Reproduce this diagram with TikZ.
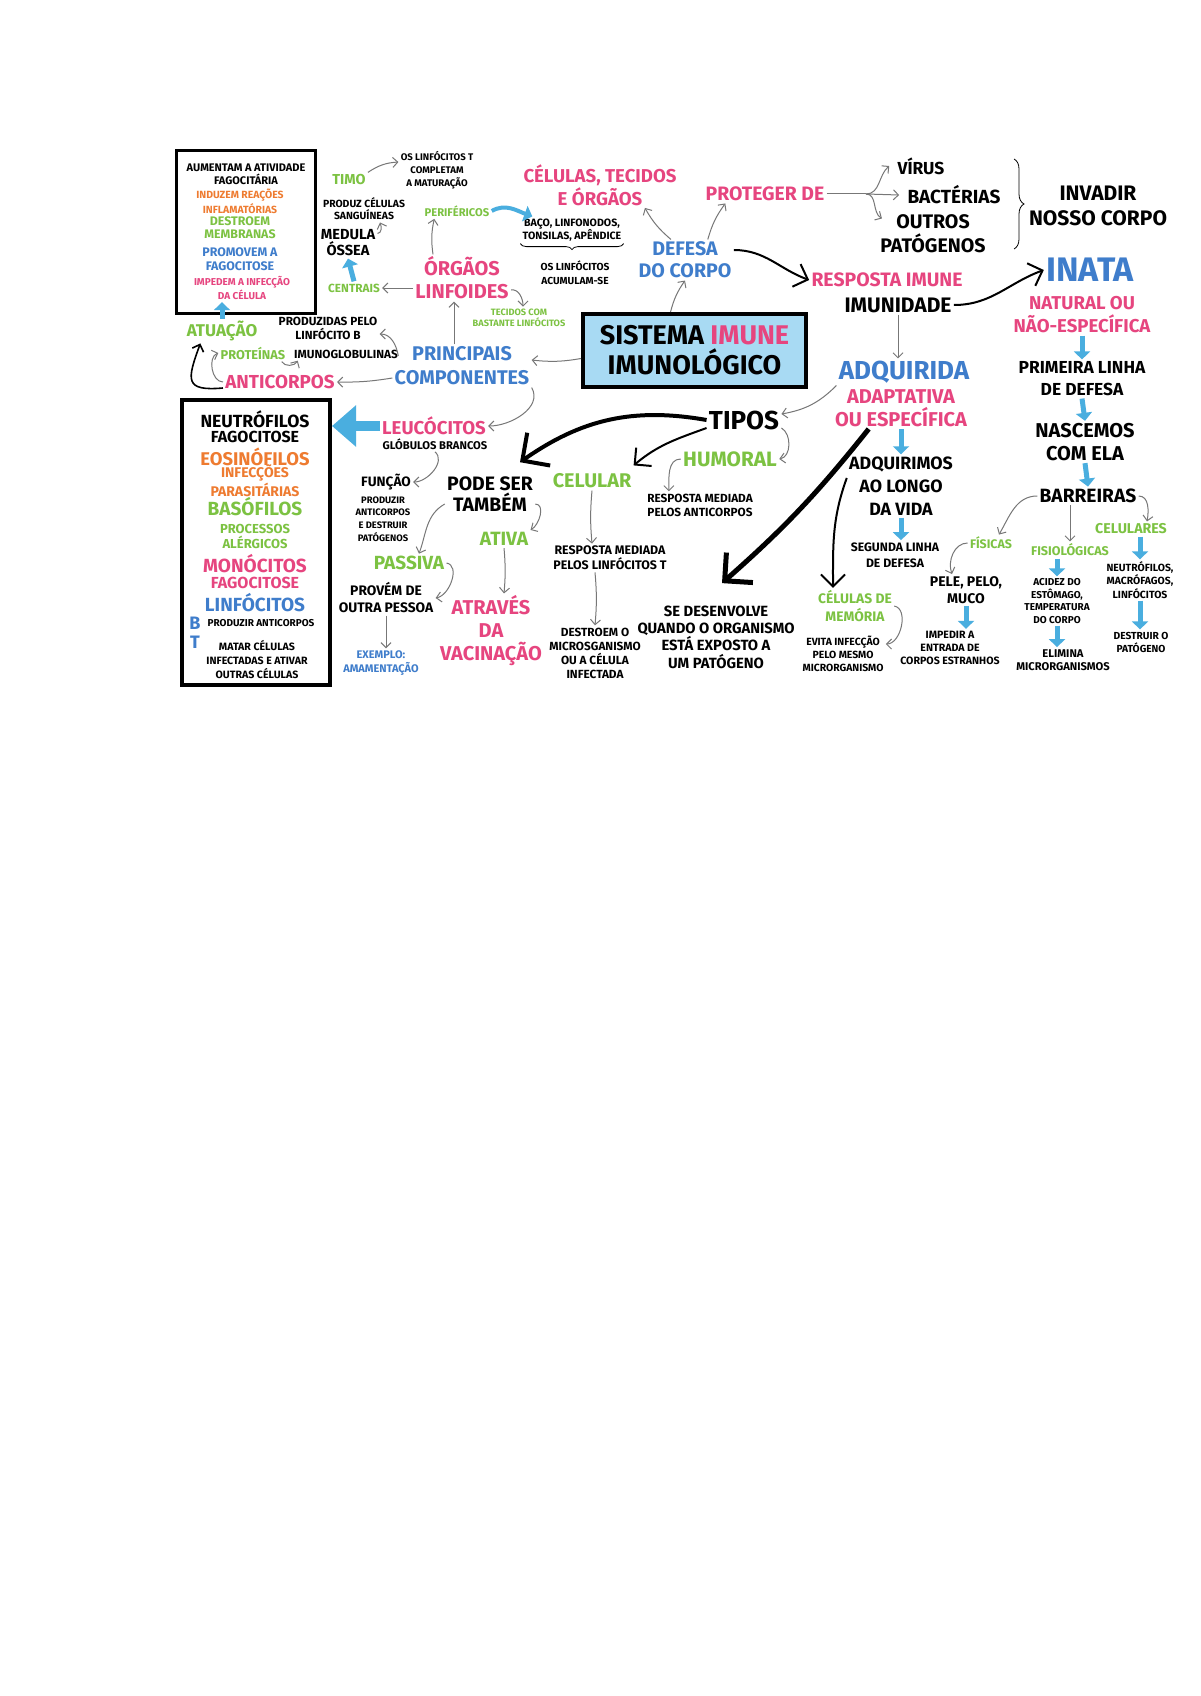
\documentclass[tikz,border=0pt]{standalone}
\usepackage{fontspec}
\setmainfont{Fira Sans}
\usetikzlibrary{arrows.meta,decorations.pathreplacing}
\definecolor{rosa}{HTML}{E6457F}
\definecolor{azul}{HTML}{3F7DCB}
\definecolor{verde}{HTML}{7CC242}
\definecolor{laranja}{HTML}{EE7B30}
\definecolor{seta}{HTML}{4AAEDF}
\definecolor{caixa}{HTML}{A8DAF3}
\definecolor{cinza}{HTML}{777777}

\begin{document}
\begin{tikzpicture}[x=0.5pt, y=-0.5pt,
    every node/.style={align=center, inner sep=1pt},
    fs/.style 2 args={font=\fontsize{#1}{#2}\selectfont\bfseries},
    grarr/.style={draw=cinza, line width=0.5pt, -{Straight Barb[length=2.5pt,width=5pt]}},
    bkarr/.style={line width=1pt, -{Straight Barb[length=6pt,width=12pt]}},
    bigarr/.style={line width=2pt, -{Straight Barb[length=10pt,width=20pt]}},
    blarr/.style={draw=seta, line width=2.5pt, -{Triangle[length=4pt,width=8pt]}}]

    \path[use as bounding box, fill=white] (0,0) rectangle (1200,1696);

    \node[draw, line width=1.5pt, minimum width=69.5pt, minimum height=81pt] (actbox) at (245.5,232) {};
    \node[fs={5.5}{6.6}] (act1) at (246,174) {AUMENTAM A ATIVIDADE\\FAGOCITÁRIA};
    \node[fs={5.2}{6.2}, text=laranja] (act2) at (240,201) {INDUZEM REAÇÕES\\INFLAMATÓRIAS};
    \node[fs={6.2}{6.6}, text=verde] (act3) at (240,228) {DESTROEM\\MEMBRANAS};
    \node[fs={6.2}{7}, text=azul] (act4) at (240,259) {PROMOVEM A\\FAGOCITOSE};
    \node[fs={5}{6}, text=rosa] (act5) at (242,288) {IMPEDEM A INFECÇÃO\\DA CÉLULA};
    \node[fs={8.5}{10}, text=verde] (atuacao) at (222,331) {ATUAÇÃO};
    \draw[blarr] (atuacao.north) -- (atuacao.north |- act5.south);

    \node[fs={7.2}{8}, text=verde] (timo) at (349,180) {TIMO};
    \node[fs={4.8}{6.4}] (timot) at (437,170) {OS LINFÓCITOS T\\COMPLETAM\\A MATURAÇÃO};
    \draw[grarr] (timo.north east) to[bend left=15] ([yshift=4pt]timot.west);
    \node[fs={5.2}{6}] (produz) at (364,209) {PRODUZ CÉLULAS\\SANGUÍNEAS};
    \node[fs={7.3}{8}] (medula) at (348,243) {MEDULA\\ÓSSEA};
    \draw[grarr] ([yshift=-3pt]medula.north east) to[out=0,in=-70] ([xshift=8pt]produz.south);
    \node[fs={5.9}{7}, text=verde] (centrais) at (354,288) {CENTRAIS};
    \draw[blarr] (centrais.north) -- (medula.south);

    \node[fs={5.6}{7}, text=verde] (perif) at (457,211) {PERIFÉRICOS};
    \node[fs={5.3}{6.5}] (baco) at (572,230) {BAÇO, LINFONODOS,\\TONSILAS, APÊNDICE};
    \draw[decorate, decoration={brace, mirror, amplitude=3pt}] (baco.south west) -- (baco.south east);
    \node[fs={5.1}{7}] (acum) at (575,273) {OS LINFÓCITOS\\ACUMULAM-SE};
    \draw[blarr, line width=2pt] (perif.east) to[out=30,in=160] ([xshift=6pt]baco.north west);
    \node[fs={10}{11.5}, text=rosa] (orgaos) at (462,278) {ÓRGÃOS\\LINFOIDES};
    \draw[grarr] (orgaos.west |- centrais.east) -- (centrais.east);
    \draw[grarr] ([xshift=10pt]orgaos.north west) to[bend left=10] ([xshift=6pt]perif.south west);
    \node[fs={4.6}{5.6}, text=verde] (tecidos) at (519,318) {TECIDOS COM\\BASTANTE LINFÓCITOS};
    \draw[grarr] ([yshift=-6pt]orgaos.east) to[out=10,in=90] ([xshift=2pt]tecidos.north);

    \node[fs={9.3}{11.5}, text=rosa] (celulas) at (600,185) {CÉLULAS, TECIDOS\\E ÓRGÃOS};
    \node[fs={9.8}{11}, text=azul] (defesa) at (685,260) {DEFESA\\DO CORPO};
    \draw[grarr] ([xshift=-7pt]defesa.north) to[bend left=10] ([xshift=-17pt]celulas.south east);
    \node[fs={9.7}{11}, text=rosa] (protege) at (765,194) {PROTEGER DE};
    \draw[grarr] ([xshift=-13pt]defesa.north east) to[bend left=10] ([xshift=11pt]protege.south west);

    \coordinate (split) at (866,194);
    \node[fs={8.7}{10}] (virus) at (921,166) {VÍRUS};
    \node[fs={9.5}{11}] (bact) at (954,195) {BACTÉRIAS};
    \node[fs={9.8}{12}] (outros) at (933,234) {OUTROS\\PATÓGENOS};
    \draw[draw=cinza, line width=0.5pt] (protege.east) -- (split);
    \draw[grarr] (split) to[out=0,in=220] ([xshift=-3pt]virus.west);
    \draw[grarr] (split) -- ([xshift=-3pt]bact.west);
    \draw[grarr] (split) to[out=0,in=150] ([xshift=2pt,yshift=-3pt]outros.north west);
    \draw[decorate, decoration={brace, amplitude=5pt}] (1014,159) -- (1014,249);
    \node[fs={10.5}{12.5}] (invadir) at (1098,206) {INVADIR\\NOSSO CORPO};

    \node[fs={9.7}{11}, text=rosa] (resposta) at (887,280) {RESPOSTA IMUNE};
    \node[fs={10.5}{12}] (imunid) at (898,305) {IMUNIDADE};
    \draw[bkarr] ([yshift=5pt]defesa.east) to[out=0,in=160] (resposta.west);
    \node[fs={17}{19}, text=azul] (inata) at (1090,270) {INATA};
    \draw[bkarr] (imunid.east) to[out=0,in=200] (inata.west);
    \node[fs={9.3}{11.5}, text=rosa] (natural) at (1082,315) {NATURAL OU\\NÃO-ESPECÍFICA};
    \node[fs={8.7}{11}] (primeira) at (1082,379) {PRIMEIRA LINHA\\DE DEFESA};
    \node[fs={10}{11.5}] (nascemos) at (1085,442) {NASCEMOS\\COM ELA};
    \node[fs={9.6}{11}] (barreiras) at (1088,496) {BARREIRAS};
    \draw[blarr] (natural.south) -- (primeira.north);
    \draw[blarr] (primeira.south) -- (nascemos.north);
    \draw[blarr] (nascemos.south) -- (barreiras.north);

    \node[fs={6.2}{7}, text=verde] (fisicas) at (991,543) {FÍSICAS};
    \node[fs={6.3}{7}, text=verde] (fisiol) at (1070,550) {FISIOLÓGICAS};
    \node[fs={7.1}{8}, text=verde] (celulares) at (1131,529) {CELULARES};
    \draw[grarr] (barreiras.west) to[out=180,in=60] ([xshift=4pt]fisicas.north);
    \draw[grarr] (barreiras.south -| fisiol.north) -- (fisiol.north);
    \draw[grarr] (barreiras.east) to[out=0,in=80] ([xshift=8pt]celulares.north);
    \node[fs={7}{8.5}] (pele) at (966,590) {PELE, PELO,\\MUCO};
    \draw[grarr] (fisicas.west) to[out=180,in=110] ([xshift=-7pt]pele.north);
    \node[fs={5.3}{6.5}] (impedir) at (950,648) {IMPEDIR A\\ENTRADA DE\\CORPOS ESTRANHOS};
    \draw[blarr] (pele.south) -- (pele.south |- impedir.north);
    \node[fs={5}{6.2}] (acidez) at (1057,601) {ACIDEZ DO\\ESTÔMAGO,\\TEMPERATURA\\DO CORPO};
    \draw[blarr] (fisiol.south -| acidez.north) -- (acidez.north);
    \node[fs={5.6}{6.5}] (elimina) at (1063,660) {ELIMINA\\MICRORGANISMOS};
    \draw[blarr] (acidez.south) -- (acidez.south |- elimina.north);
    \node[fs={5.2}{6.6}] (neutr) at (1140,580) {NEUTRÓFILOS,\\MACRÓFAGOS,\\LINFÓCITOS};
    \draw[blarr] (celulares.south -| neutr.north) -- (neutr.north);
    \node[fs={5.1}{6.5}] (destruir) at (1141,642) {DESTRUIR O\\PATÓGENO};
    \draw[blarr] (neutr.south) -- (neutr.south |- destruir.north);

    \node[draw, line width=2pt, fill=caixa, minimum width=111.5pt, minimum height=36.5pt, fs={13.5}{15}] (sysbox) at (694.5,350.5) {SISTEMA \textcolor{rosa}{IMUNE}\\IMUNOLÓGICO};
    \draw[grarr] ([xshift=-12pt]sysbox.north) to[bend left=10] (defesa.south);

    \node[fs={5.9}{7}] (prodpelo) at (328,328) {PRODUZIDAS PELO\\LINFÓCITO B};
    \node[fs={5.9}{7}] (imuno) at (346,354) {IMUNOGLOBULINAS};
    \node[fs={6.4}{7.5}, text=verde] (proteinas) at (253,353) {PROTEÍNAS};
    \node[fs={9.4}{11}, text=rosa] (anticorpos) at (280,382) {ANTICORPOS};
    \node[fs={9.9}{12}, text=azul] (princ) at (462,366) {PRINCIPAIS\\COMPONENTES};
    \draw[grarr] ([yshift=-4pt]sysbox.west) to[bend left=8] ([yshift=3pt]princ.east);
    \draw[grarr] ([xshift=-4pt]princ.north) -- ([xshift=-4pt]orgaos.south);
    \draw[grarr] ([yshift=-6pt]princ.west) to[bend left=5] (anticorpos.east);
    \draw[grarr] ([xshift=3pt,yshift=5pt]princ.west) to[out=100,in=0] ([yshift=-3pt]prodpelo.east);
    \draw[grarr] ([xshift=-3pt]proteinas.south east) to[out=-60,in=-120] ([xshift=3pt]imuno.south west);
    \draw[grarr] (anticorpos.west) to[out=180,in=200] (proteinas.west);
    \draw[line width=0.8pt, -{Straight Barb[length=3pt,width=6pt]}] ([yshift=-3pt]anticorpos.west) to[out=185,in=250,looseness=2] ([xshift=8pt]atuacao.south west);

    \node[draw, line width=2pt, minimum width=74pt, minimum height=142.5pt] (cellbox) at (256,542.5) {};
    \node[fs={8.8}{10}] (n1) at (255,419) {NEUTRÓFILOS};
    \node[fs={8}{9}] (n2) at (255,437) {FAGOCITOSE};
    \node[fs={9.2}{10}, text=laranja] (n3) at (255,457) {EOSINÓFILOS};
    \node[fs={7}{8}, text=laranja] (n4) at (255,481) {INFECÇÕES\\PARASITÁRIAS};
    \node[fs={9.5}{10}, text=verde] (n5) at (255,507) {BASÓFILOS};
    \node[fs={6.5}{7.5}, text=verde] (n6) at (255,536.5) {PROCESSOS\\ALÉRGICOS};
    \node[fs={9.5}{10}, text=rosa] (n7) at (255,564) {MONÓCITOS};
    \node[fs={8}{9}, text=rosa] (n8) at (255,583) {FAGOCITOSE};
    \node[fs={9.5}{10}, text=azul] (n9) at (255,603) {LINFÓCITOS};
    \node[fs={9}{10}, text=azul] (nb) at (195,623) {B};
    \node[fs={5}{6}] (n10) at (261,623) {PRODUZIR ANTICORPOS};
    \node[fs={9}{10}, text=azul] (nt) at (195,642) {T};
    \node[fs={5.3}{7}] (n11) at (257,660) {MATAR CÉLULAS\\INFECTADAS E ATIVAR\\OUTRAS CÉLULAS};

    \node[fs={9.3}{10.5}, text=rosa] (leuco) at (434,426) {LEUCÓCITOS};
    \node[fs={5.6}{7}] (globulos) at (435,444) {GLÓBULOS BRANCOS};
    \draw[draw=seta, line width=5pt, -{Triangle[length=12pt,width=20pt]}] (leuco.west) -- (leuco.west -| cellbox.east);
    \draw[grarr] (princ.south east) to[out=-60,in=0] (leuco.east);
    \node[fs={6.8}{8}] (funcao) at (386,482) {FUNÇÃO};
    \draw[grarr] (globulos.south) to[out=-40,in=0] (funcao.east);
    \node[fs={4.7}{6.3}] (funcdesc) at (383,519) {PRODUZIR\\ANTICORPOS\\E DESTRUIR\\PATÓGENOS};

    \node[fs={9.7}{10.5}] (podeser) at (490,494) {PODE SER\\TAMBÉM};
    \node[fs={9.5}{11}, text=verde] (passiva) at (409,563) {PASSIVA};
    \node[fs={9.6}{11}, text=verde] (ativa) at (504,539) {ATIVA};
    \draw[grarr] ([yshift=-5pt]podeser.west) to[out=210,in=70] ([xshift=5pt]passiva.north);
    \draw[grarr] ([yshift=-5pt]podeser.east) to[out=0,in=30] (ativa.north east);
    \node[fs={6.9}{8.5}] (provem) at (386,598) {PROVÉM DE\\OUTRA PESSOA};
    \draw[grarr] (passiva.east) to[out=-10,in=10] (provem.east);
    \node[fs={5.5}{7}, text=azul] (exemplo) at (381,663) {EXEMPLO:\\AMAMENTAÇÃO};
    \draw[grarr] (provem.south) -- (provem.south |- exemplo.north);
    \node[fs={10}{11.5}, text=rosa] (atraves) at (491,631) {ATRAVÉS\\DA\\VACINAÇÃO};
    \draw[grarr] (ativa.south) to[bend left=5] (ativa.south |- atraves.north);

    \node[fs={9.9}{11}, text=verde] (celular) at (592,481) {CELULAR};
    \node[fs={13}{15}] (tipos) at (744,420) {TIPOS};
    \draw[bigarr] (tipos.west) to[out=170,in=35] ([xshift=15pt,yshift=6pt]podeser.north);
    \draw[bkarr] ([yshift=-4pt]tipos.west) to[out=200,in=40] ([yshift=3pt]celular.north east);
    \node[fs={10.4}{12}, text=verde] (humoral) at (730,459) {HUMORAL};
    \draw[grarr] ([yshift=-4pt]tipos.east) to[out=-30,in=10] (humoral.east);
    \node[fs={5.9}{7}] (humresp) at (700,505) {RESPOSTA MEDIADA\\PELOS ANTICORPOS};
    \draw[grarr] (humoral.west) to[out=180,in=90] ([xshift=12pt]humresp.north west);
    \node[fs={6.2}{7.5}] (celresp) at (610,558) {RESPOSTA MEDIADA\\PELOS LINFÓCITOS T};
    \draw[grarr] (celular.south) to[bend right=5] (celular.south |- celresp.north);
    \node[fs={5.9}{7}] (destroem) at (595,653) {DESTROEM O\\MICROSGANISMO\\OU A CÉLULA\\INFECTADA};
    \draw[grarr] (destroem.north |- celresp.south) to[bend left=5] (destroem.north);

    \node[fs={13}{15}, text=azul] (adquirida) at (904,372) {ADQUIRIDA};
    \node[fs={10}{11.5}, text=rosa] (adapt) at (901,408) {ADAPTATIVA\\OU ESPECÍFICA};
    \draw[grarr] (imunid.south) -- (imunid.south |- adquirida.north);
    \draw[grarr] (adquirida.south west) to[out=225,in=10] ([yshift=3pt]tipos.east);
    \node[fs={8.9}{11.5}] (adqvida) at (901,486) {ADQUIRIMOS\\AO LONGO\\DA VIDA};
    \draw[blarr] (adapt.south) -- (adqvida.north);
    \node[fs={6.1}{8}] (segunda) at (895,555) {SEGUNDA LINHA\\DE DEFESA};
    \draw[blarr] (adqvida.south) -- (adqvida.south |- segunda.north);
    \node[fs={6.9}{9}, text=verde] (memoria) at (855,606) {CÉLULAS DE\\MEMÓRIA};
    \draw[bkarr] ([yshift=4pt]adqvida.west) to[out=-110,in=90] ([xshift=-11pt]memoria.north);
    \node[fs={5.2}{6.5}] (evita) at (843,654) {EVITA INFECÇÃO\\PELO MESMO\\MICRORGANISMO};
    \draw[grarr] (memoria.east) to[out=-10,in=0] ([yshift=5pt]evita.east);
    \node[fs={7.4}{8.7}] (sedesenv) at (716,637) {SE DESENVOLVE\\QUANDO O ORGANISMO\\ESTÁ EXPOSTO A\\UM PATÓGENO};
    \draw[bigarr, line width=2.5pt] ([xshift=18pt]adapt.south west) to[bend left=5] ([xshift=3pt,yshift=10pt]sedesenv.north);
\end{tikzpicture}
\end{document}
